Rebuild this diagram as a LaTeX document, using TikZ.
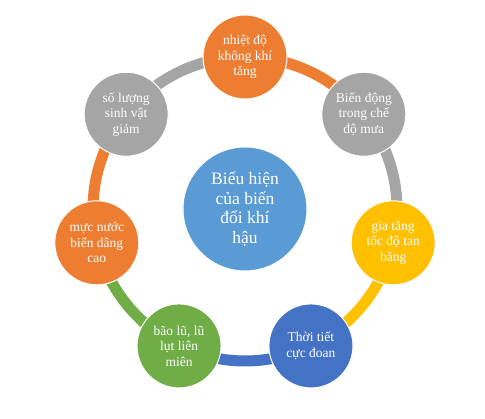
\documentclass[tikz,border=0pt]{standalone}
\usepackage{fontspec}
\setmainfont{Liberation Serif}
\definecolor{cOrange}{HTML}{ED7D31}
\definecolor{cGray}{HTML}{A5A5A5}
\definecolor{cGold}{HTML}{FFC000}
\definecolor{cBlue}{HTML}{4472C4}
\definecolor{cGreen}{HTML}{70AD47}
\definecolor{cCenter}{HTML}{5B9BD5}
\begin{document}
\begin{tikzpicture}[x=1pt,y=1pt,
  bubble/.style={circle, minimum size=84pt, inner sep=0pt, fill=#1, draw=white, line width=1pt,
    text=white, align=center, font=\fontsize{13.5}{15.5}\selectfont},
  ring/.style={line width=11pt, draw=#1}]
\useasboundingbox (0,0) rectangle (485,419);
\fill[white] (0,0) rectangle (485,419);
\coordinate (O) at (245,210);
\def\R{152}
% node anchor coordinates
\path (O) ++(90:\R) coordinate (p0);
\path (O) ++(38.571:\R) coordinate (p1);
\path (O) ++(-12.857:\R) coordinate (p2);
\path (O) ++(-64.286:\R) coordinate (p3);
\path (O) ++(-115.714:\R) coordinate (p4);
\path (O) ++(-167.143:\R) coordinate (p5);
\path (O) ++(141.429:\R) coordinate (p6);
% ring arcs
\draw[ring=cOrange] (p0) arc[start angle=90, end angle=38.571, radius=\R];
\draw[ring=cGray] (p1) arc[start angle=38.571, end angle=-12.857, radius=\R];
\draw[ring=cGold] (p2) arc[start angle=-12.857, end angle=-64.286, radius=\R];
\draw[ring=cBlue] (p3) arc[start angle=-64.286, end angle=-115.714, radius=\R];
\draw[ring=cGreen] (p4) arc[start angle=-115.714, end angle=-167.143, radius=\R];
\draw[ring=cOrange] (p5) arc[start angle=-167.143, end angle=-218.571, radius=\R];
\draw[ring=cGray] (p6) arc[start angle=141.429, end angle=90, radius=\R];
% nodes
\node[bubble=cCenter, minimum size=124pt, font=\fontsize{17.5}{19.5}\selectfont] (c) at (O) {Biểu hiện\\của biến\\đổi khí\\hậu};
\node[bubble=cOrange] (n0) at (p0) {nhiệt độ\\không khí\\tăng};
\node[bubble=cGray] (n1) at (p1) {Biến động\\trong chế\\độ mưa};
\node[bubble=cGold] (n2) at (p2) {gia tăng\\tốc độ tan\\băng};
\node[bubble=cBlue] (n3) at (p3) {Thời tiết\\cực đoan};
\node[bubble=cGreen] (n4) at (p4) {bão lũ, lũ\\lụt liên\\miên};
\node[bubble=cOrange] (n5) at (p5) {mực nước\\biển dâng\\cao};
\node[bubble=cGray] (n6) at (p6) {số lượng\\sinh vật\\giảm};
\end{tikzpicture}
\end{document}
